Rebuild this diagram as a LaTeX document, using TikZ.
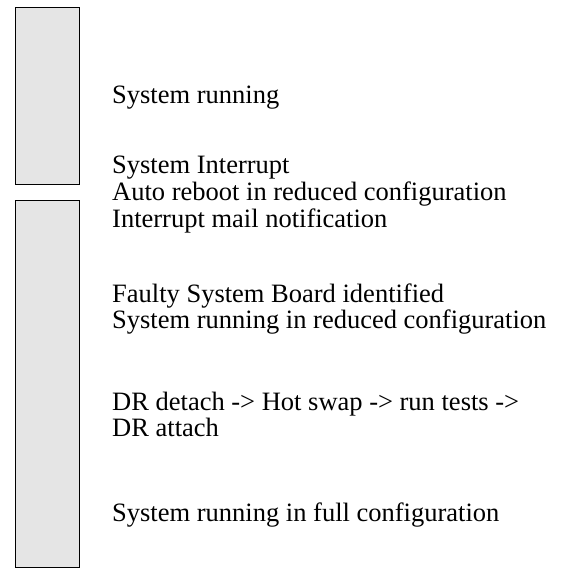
\documentclass[tikz,border=0pt]{standalone}
\usepackage{fontspec}
\setmainfont{Liberation Serif}
\definecolor{barfill}{HTML}{E5E5E5}
\tikzset{
  bar/.style={draw=black, fill=barfill, line width=0.9pt},
  lbl/.style={anchor=base west, inner sep=0pt, font=\fontsize{26.5}{26.6}\selectfont}
}
\begin{document}
\begin{tikzpicture}[x=1pt,y=-1pt]
\useasboundingbox (0,0) rectangle (563,568);
\draw[bar] (15,7.5) rectangle (79,184);
\draw[bar] (15,200) rectangle (79,567);
\node[lbl] (t1) at (112,103) {System running};
\node[lbl] (t2a) at (112,173) {System Interrupt};
\node[lbl] (t2b) at (112,200) {Auto reboot in reduced configuration};
\node[lbl] (t2c) at (112,227) {Interrupt mail notification};
\node[lbl] (t3a) at (112,302) {Faulty System Board identified};
\node[lbl] (t3b) at (112,328) {System running in reduced configuration};
\node[lbl] (t4a) at (112,410) {DR detach -> Hot swap -> run tests ->};
\node[lbl] (t4b) at (112,436) {DR attach};
\node[lbl] (t5) at (112,521) {System running in full configuration};
\end{tikzpicture}
\end{document}
